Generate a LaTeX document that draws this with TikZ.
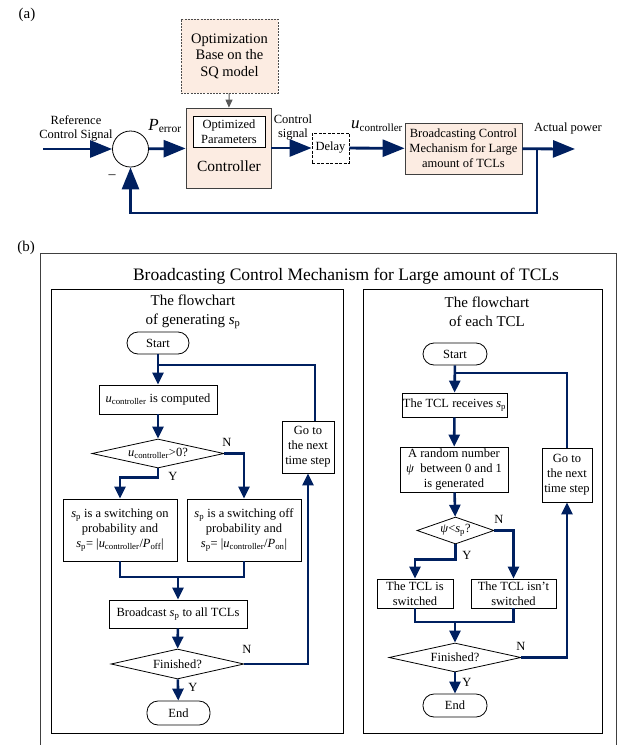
\documentclass[tikz,border=0pt]{standalone}
\usepackage{fontspec}
\setmainfont{Liberation Serif}
\usetikzlibrary{arrows.meta,shapes.geometric}
\definecolor{navy}{RGB}{0,32,96}
\definecolor{peach}{RGB}{252,236,226}
\newcommand{\sP}{\textit{s}\textsubscript{p}}
\newcommand{\uctrl}{\textit{u}\textsubscript{controller}}
\newcommand{\fs}[2]{\fontsize{#1}{#2}\selectfont}

\begin{document}
\begin{tikzpicture}[x=1pt,y=-1pt,
		blockbox/.style={draw=black!75, fill=peach, line width=0.8pt, inner sep=0pt, align=center, font=\fs{12.5}{15}},
		plainbox/.style={draw, line width=0.8pt, inner sep=0pt, align=center, font=\fs{12.5}{15}},
		decbox/.style={draw, line width=0.8pt, diamond, inner sep=0pt, align=center, font=\fs{12.5}{15}},
		termbox/.style={draw, line width=0.8pt, rounded corners=11pt, inner sep=0pt, font=\fs{12.5}{15}},
		lbl/.style={inner sep=0pt, align=center, font=\fs{12.5}{14}},
		bigarrow/.style={draw=navy, line width=2.8pt, -{Triangle[length=22pt,width=17pt]}},
		farrow/.style={draw=navy, line width=2.6pt, -{Triangle[length=12pt,width=11pt]}},
		fline/.style={draw=navy, line width=2.6pt}]
	\useasboundingbox (0,0) rectangle (620,745);
	
	% (a) control loop
	\node[font=\fs{15}{17}] (la) at (27,15) {(a)};
	\node[blockbox, draw=black!70, dash pattern=on 2pt off 1.2pt, minimum width=97pt, minimum height=74pt, font=\fs{14.5}{16.5}] (opt) at (229.5,56) {Optimization\\Base on the\\SQ model};
	\node[blockbox, minimum width=85pt, minimum height=80pt] (ctrl) at (228.5,148) {};
	\node[plainbox, fill=white, minimum width=72pt, minimum height=31pt] (param) at (229,131.5) {Optimized\\Parameters};
	\node[lbl, font=\fs{15.5}{17}] (ctrltxt) at (229,166) {Controller};
	\node[circle, draw, line width=0.8pt, minimum size=36pt, inner sep=0pt] (sum) at (130.5,149) {};
	\node[plainbox, dash pattern=on 3pt off 1.5pt, minimum width=37pt, minimum height=30pt] (delay) at (330.5,148) {Delay};
	\node[blockbox, minimum width=117pt, minimum height=51pt] (bcm) at (463.5,148.5) {Broadcasting Control\\Mechanism for Large\\amount of TCLs};
	\coordinate (ref) at (43,149);
	\coordinate (out) at (575,149);
	\coordinate (branch) at (537,149);
	\node[lbl] (reftxt) at (76,128) {Reference\\Control Signal};
	\node[lbl, font=\fs{17}{19}] (perr) at (165,126) {\textit{P}\textsubscript{\fs{11.5}{13}error}};
	\node[lbl] (sigtxt) at (293,128) {Control\\signal};
	\node[lbl, font=\fs{17}{19}] (utxt) at (377,126) {\textit{u}\textsubscript{\fs{11}{13}controller}};
	\node[lbl] (outtxt) at (568,128) {Actual power};
	\node[lbl, font=\fs{14}{16}] (minus) at (112,177) {–};
	
	\draw[draw=black!65, line width=1pt, -{Triangle[length=8pt,width=7pt]}] (opt) -- (ctrl);
	\draw[bigarrow] (ref) -- (sum);
	\draw[bigarrow] (sum) -- (ctrl);
	\draw[bigarrow] (ctrl) -- (delay);
	\draw[bigarrow] (delay) -- (bcm);
	\draw[bigarrow] (bcm) -- (out);
	\draw[bigarrow] (branch) -- ++(0,64) -| (sum.south);
	
	% (b) frames
	\node[font=\fs{15}{17}] (lb) at (26,248) {(b)};
	\draw[line width=0.8pt, draw=black!75] (40,760) -- (40,253) -- (616,253) -- (616,760);
	\node[lbl, font=\fs{17.5}{20}] (title) at (346,276) {Broadcasting Control Mechanism for Large amount of TCLs};
	\draw[line width=0.8pt] (51,289) rectangle (343,733);
	\draw[line width=0.8pt] (363,289) rectangle (602,733);
	
	% flowchart of generating s_p
	\node[lbl, font=\fs{15}{18.5}] (ltitle) at (193,312) {The flowchart\\of generating \sP};
	\node[termbox, minimum width=62pt, minimum height=22pt] (lstart) at (158,343) {Start};
	\coordinate (ljoin) at (158,365);
	\node[plainbox, minimum width=118pt, minimum height=29pt] (lcomp) at (158,399.5) {\uctrl{} is computed};
	\node[decbox, aspect=4.55, minimum width=132pt, minimum height=29pt] (ldec) at (158,453.5) {\uctrl{}>0?};
	\node[plainbox, minimum width=114pt, minimum height=62pt] (lon) at (120,530) {\sP{} is a switching on\\probability and\\\sP= |\uctrl/\textit{P}\textsubscript{off}|};
	\node[plainbox, minimum width=114pt, minimum height=62pt] (loff) at (244,530) {\sP{} is a switching off\\probability and\\\sP= |\uctrl/\textit{P}\textsubscript{on}|};
	\coordinate (lmerge) at (178,577);
	\node[plainbox, minimum width=138pt, minimum height=28pt] (lbc) at (178,614) {Broadcast \sP{} to all TCLs};
	\node[decbox, aspect=4.4, minimum width=133pt, minimum height=30pt] (lfin) at (177.5,664) {Finished?};
	\node[termbox, minimum width=63pt, minimum height=24pt] (lend) at (178.5,713) {End};
	\node[plainbox, minimum width=52pt, minimum height=52pt] (lgo) at (308,447) {Go to\\the next\\time step};
	\node[lbl] (ly1) at (173,476) {Y};
	\node[lbl] (ln1) at (227,442) {N};
	\node[lbl] (ly2) at (193,687) {Y};
	\node[lbl] (ln2) at (247,649) {N};
	
	\draw[farrow] (lstart) -- (lcomp);
	\draw[fline] ([xshift=7pt]lgo.north) |- (ljoin);
	\draw[farrow] (lcomp) -- (ldec);
	\draw[farrow] (ldec.south) -- ++(0,9) -| (lon.north);
	\draw[farrow] (ldec.east) -| (loff.north);
	\draw[fline] (lon.south) |- (lmerge) -| (loff.south);
	\draw[farrow] (lmerge) -- (lbc);
	\draw[farrow] (lbc) -- (lfin);
	\draw[farrow] (lfin) -- (lend);
	\draw[farrow] (lfin.east) -| (lgo.south);
	
	% flowchart of each TCL
	\node[lbl, font=\fs{15}{18.5}] (rtitle) at (487,312) {The flowchart\\of each TCL};
	\node[termbox, minimum width=64pt, minimum height=22pt] (rstart) at (455,354) {Start};
	\coordinate (rjoin) at (455,373);
	\node[plainbox, minimum width=105pt, minimum height=24pt] (rrecv) at (454.5,405) {The TCL receives \sP};
	\node[plainbox, minimum width=108pt, minimum height=45pt] (rrand) at (454,469.5) {A random number\\\textit{ψ}~ between 0 and 1\\is generated};
	\node[decbox, aspect=2.85, minimum width=77pt, minimum height=27pt] (rdec) at (455.5,530.5) {\textit{ψ}<\sP?};
	\node[plainbox, minimum width=76pt, minimum height=29pt] (rsw) at (415,593.5) {The TCL is\\switched};
	\node[plainbox, minimum width=85pt, minimum height=29pt] (rnsw) at (513.5,593.5) {The TCL isn't\\switched};
	\coordinate (rmerge) at (455,622);
	\node[decbox, aspect=4.55, minimum width=132pt, minimum height=29pt] (rfin) at (455,657.5) {Finished?};
	\node[termbox, minimum width=64pt, minimum height=23pt] (rend) at (455,705.5) {End};
	\node[plainbox, minimum width=50pt, minimum height=54pt] (rgo) at (567,475) {Go to\\the next\\time step};
	\node[lbl] (ry1) at (467,555) {Y};
	\node[lbl] (rn1) at (499,519) {N};
	\node[lbl] (ry2) at (467,682) {Y};
	\node[lbl] (rn2) at (521,646) {N};
	
	\draw[farrow] (rstart) -- (rrecv);
	\draw[fline] (rgo.north) |- (rjoin);
	\draw[farrow] (rrecv) -- (rrand);
	\draw[farrow] (rrand) -- (rdec);
	\draw[farrow] (rdec.south) -- ++(0,15) -| (rsw.north);
	\draw[farrow] (rdec.east) -| (rnsw.north);
	\draw[fline] (rsw.south) |- (rmerge) -| (rnsw.south);
	\draw[farrow] (rmerge) -- (rfin);
	\draw[farrow] (rfin) -- (rend);
	\draw[farrow] (rfin.east) -| (rgo.south);
\end{tikzpicture}
\end{document}
